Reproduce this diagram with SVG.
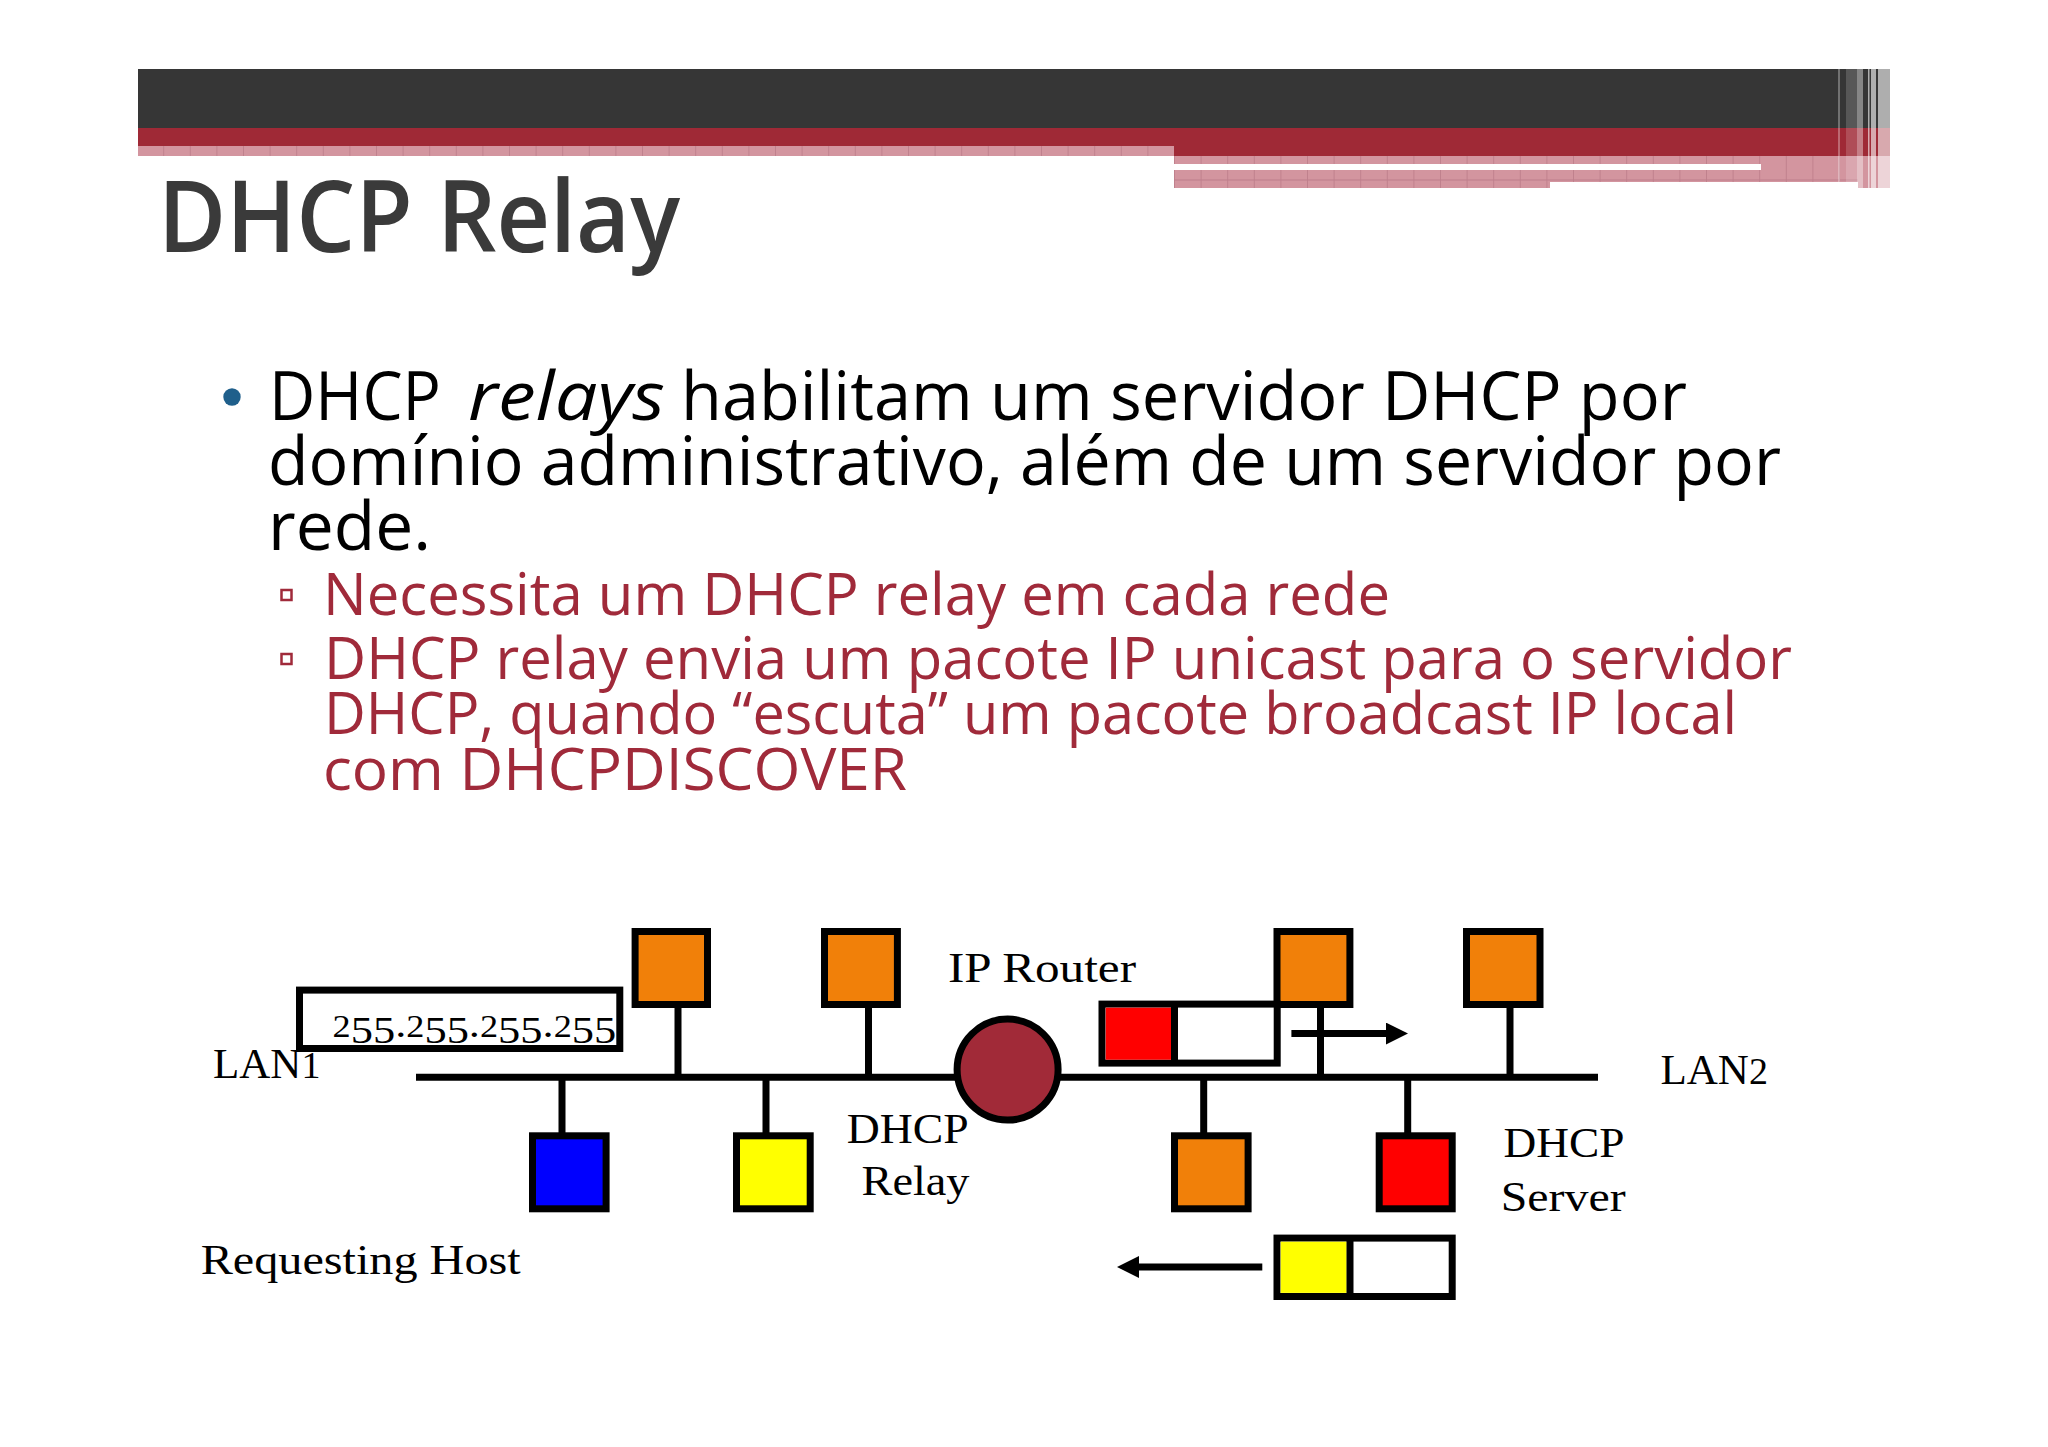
<svg xmlns="http://www.w3.org/2000/svg" width="2048" height="1447" viewBox="0 0 2048 1447">
<style>
.h{font-family:"Open Sans","Noto Sans",sans-serif}
.main{font-size:68px;fill:#000;font-weight:500}
.sub{font-size:58px;fill:#A02A3A;font-weight:500}
.lab{font-family:"Liberation Serif",serif;font-size:43px;fill:#000}
.host{stroke:#000;stroke-width:7}
.wire{stroke:#000;stroke-width:7;fill:none}
.o{fill:#F18009}
.sq{fill:none;stroke:#A02A3A;stroke-width:2.5}
.os{font-size:31px}
.osl{font-size:38px}
</style>
<defs>
<pattern id="grid" patternUnits="userSpaceOnUse" x="1174" y="146" width="26.6" height="200">
<rect width="26.6" height="200" fill="#D3959F"/>
<rect x="0" width="0.9" height="200" fill="#BE7F8B"/>
</pattern>
<marker id="ah" markerUnits="userSpaceOnUse" viewBox="0 0 22 22" refX="11" refY="11" markerWidth="22" markerHeight="22" orient="auto"><path d="M0 0L22 11L0 22Z" fill="#000"/></marker>
</defs>
<rect width="2048" height="1447" fill="#fff"/>

<g id="header">
<rect x="138" y="69" width="1752" height="59" fill="#363636"/>
<rect x="138" y="128" width="1752" height="18" fill="#9F2936"/>
<rect x="1174" y="146" width="716" height="10" fill="#9F2936"/>
<rect x="138" y="146" width="1036" height="10" fill="url(#grid)"/>
<rect x="1174" y="156" width="684" height="26" fill="url(#grid)"/>
<rect x="1174" y="182" width="376" height="6" fill="url(#grid)"/>
<rect x="1858" y="156" width="32" height="32" fill="#D3959F"/>
<rect x="1174" y="179.500" width="684" height="1" fill="#BE7F8B"/>
<rect x="1174" y="164" width="587" height="6" fill="#fff"/>
<g fill="#fff">
<rect x="1838" y="69" width="2" height="119" opacity=".3"/>
<rect x="1846" y="69" width="11" height="119" opacity=".17"/>
<rect x="1857" y="69" width="6" height="119" opacity=".4"/>
<rect x="1868" y="69" width="1.500" height="119" opacity=".6"/>
<rect x="1871" y="69" width="5" height="119" opacity=".6"/>
<rect x="1878" y="69" width="12" height="119" opacity=".6"/>
</g>
</g>

<g id="title"><text class="h" x="158" y="252" font-size="100" font-weight="600" fill="#3A3A3A" textLength="522" lengthAdjust="spacingAndGlyphs">DHCP Relay</text></g>

<g id="body">
<circle cx="232" cy="397" r="8.700" fill="#1F5F8B"/>
<text class="h main" x="269" y="419.500" textLength="172" lengthAdjust="spacingAndGlyphs">DHCP</text>
<text class="h main" x="468" y="419.500" font-style="italic" textLength="197" lengthAdjust="spacingAndGlyphs">relays</text>
<text class="h main" x="681" y="419.500" textLength="1006" lengthAdjust="spacingAndGlyphs">habilitam um servidor DHCP por</text>
<text class="h main" x="268" y="484.500" textLength="1513" lengthAdjust="spacingAndGlyphs">domínio administrativo, além de um servidor por</text>
<text class="h main" x="268" y="549.500" textLength="163" lengthAdjust="spacingAndGlyphs">rede.</text>
<rect class="sq" x="281.500" y="590" width="10" height="10"/>
<text class="h sub" x="323" y="614.500" textLength="1067" lengthAdjust="spacingAndGlyphs">Necessita um DHCP relay em cada rede</text>
<rect class="sq" x="281.500" y="654" width="10" height="10"/>
<text class="h sub" x="324" y="678.500" textLength="1468" lengthAdjust="spacingAndGlyphs">DHCP relay envia um pacote IP unicast para o servidor</text>
<text class="h sub" x="324" y="734" textLength="1413" lengthAdjust="spacingAndGlyphs">DHCP, quando “escuta” um pacote broadcast IP local</text>
<text class="h sub" x="323" y="789.500" textLength="584" lengthAdjust="spacingAndGlyphs">com DHCPDISCOVER</text>
</g>

<g id="diagram" transform="translate(0 1.300)">
<g id="connectors">
<path class="wire" d="M416 1076H1598"/>
<path class="wire" d="M678 1003V1076M868.500 1003V1076M1320.500 1003V1076M1510 1003V1076"/>
<path class="wire" d="M562 1076V1135M766 1076V1135M1203.700 1076V1135M1407.700 1076V1135"/>
<path class="wire" d="M1291.400 1032.300H1397" marker-end="url(#ah)"/>
<path class="wire" d="M1262.300 1265.700H1128" marker-end="url(#ah)"/>
</g>

<g id="host-orange-1"><rect class="host o" x="635.100" y="930.200" width="72.400" height="73"/></g>
<g id="host-orange-2"><rect class="host o" x="824.500" y="930.200" width="72.900" height="73"/></g>
<g id="host-orange-3"><rect class="host o" x="1277" y="930.200" width="72.900" height="73"/></g>
<g id="host-orange-4"><rect class="host o" x="1466.500" y="930.200" width="73.500" height="73"/></g>
<g id="host-blue"><rect class="host" x="532.500" y="1134.500" width="73.600" height="73" fill="#0000FF"/></g>
<g id="host-yellow"><rect class="host" x="736.500" y="1134.500" width="73.700" height="73" fill="#FFFF00"/></g>
<g id="host-orange-5"><rect class="host o" x="1174.500" y="1134.500" width="73.600" height="73"/></g>
<g id="dhcp-server">
<rect class="host" x="1379.200" y="1134.500" width="73" height="73" fill="#FF0000"/>
<text class="lab" x="1503.400" y="1156" textLength="121" lengthAdjust="spacingAndGlyphs">DHCP</text>
<text class="lab" x="1500.700" y="1209.300" textLength="125" lengthAdjust="spacingAndGlyphs">Server</text>
</g>
<g id="ip-router">
<circle class="host" cx="1007.600" cy="1068.300" r="50.500" fill="#A12A38"/>
<text class="lab" x="948" y="981" textLength="188" lengthAdjust="spacingAndGlyphs">IP Router</text>
</g>
<g id="relay-label">
<text class="lab" x="846.700" y="1141.700" textLength="122" lengthAdjust="spacingAndGlyphs">DHCP</text>
<text class="lab" x="861.500" y="1194" textLength="108" lengthAdjust="spacingAndGlyphs">Relay</text>
</g>
<g id="broadcast-packet">
<rect x="299.500" y="988.800" width="320.300" height="58.400" fill="#fff" stroke="#000" stroke-width="7"/>
<text class="lab" transform="translate(332.600 1036) scale(1.17 1)" style="font-size:38px"><tspan class="os">2</tspan><tspan dy="6">55</tspan><tspan dy="-6">.</tspan><tspan class="os">2</tspan><tspan dy="6">55</tspan><tspan dy="-6">.</tspan><tspan class="os">2</tspan><tspan dy="6">55</tspan><tspan dy="-6">.</tspan><tspan class="os">2</tspan><tspan dy="6">55</tspan></text>
</g>
<g id="unicast-packet">
<rect class="host" x="1102" y="1002.800" width="175.200" height="59" fill="#fff"/>
<rect x="1105.700" y="1006.400" width="65.300" height="52" fill="#FF0000"/>
<path class="wire" d="M1174.500 1003V1062"/>
</g>
<g id="reply-packet">
<rect class="host" x="1277" y="1236.800" width="175.200" height="58.400" fill="#fff"/>
<rect x="1280.700" y="1240.400" width="66" height="51.200" fill="#FFFF00"/>
<path class="wire" d="M1350 1237V1295"/>
</g>
<g id="labels">
<text class="lab" x="213" y="1076.700">LAN<tspan class="osl">1</tspan></text>
<text class="lab" x="1660.500" y="1082.700">LAN<tspan class="osl">2</tspan></text>
<text class="lab" x="200.700" y="1272.700" textLength="320" lengthAdjust="spacingAndGlyphs">Requesting Host</text>
</g>
</g>
</svg>
